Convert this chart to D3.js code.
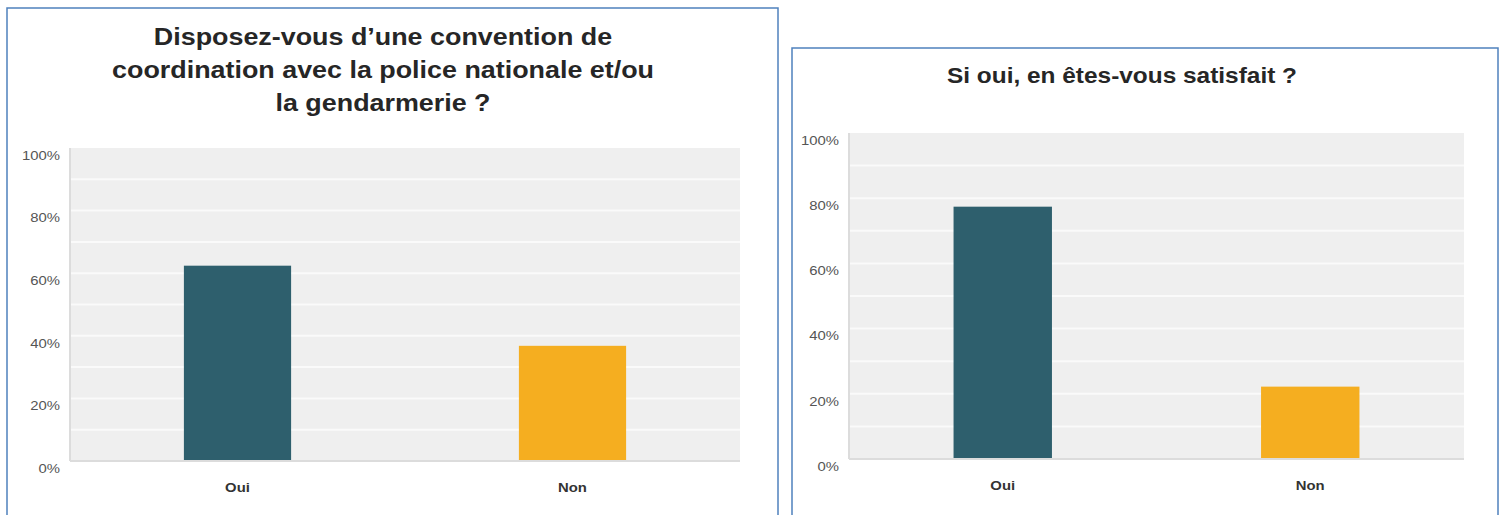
<!DOCTYPE html>
<html>
<head>
<meta charset="utf-8">
<script src="https://cdn.jsdelivr.net/npm/d3@7"></script>
<style>
  body { margin: 0; background: #fff; }
  svg { display: block; font-family: "Liberation Sans", Arial, sans-serif; }
</style>
</head>
<body>
<svg id="chart" width="1504" height="515"></svg>
<script>
// Answers shared by both questions
var categories = ["Oui", "Non"];
var barColors = ["#2e5f6d", "#f5ae20"];

// Question 1: agreement with police / gendarmerie
var title1 = ["Disposez-vous d\u2019une convention de",
              "coordination avec la police nationale et/ou",
              "la gendarmerie ?"];
var values1 = [0.624, 0.368];

// Question 2: satisfaction
var title2 = ["Si oui, en \u00eates-vous satisfait ?"];
var values2 = [0.774, 0.222];

var yTicks = [0, 0.2, 0.4, 0.6, 0.8, 1];
var yGrid = [0.1, 0.2, 0.3, 0.4, 0.5, 0.6, 0.7, 0.8, 0.9];

// the source screenshot is stretched sideways a bit
var stretch = 1.24;

var svg = d3.select("#chart");

function drawPanel(opts) {
  var g = svg.append("g");

  // panel frame
  g.append("rect")
    .attr("x", opts.frame[0]).attr("y", opts.frame[1])
    .attr("width", opts.frame[2]).attr("height", opts.frame[3])
    .attr("fill", "#fff")
    .attr("stroke", "#4f81bd")
    .attr("stroke-width", 1.5);

  g.selectAll(".title")
    .data(opts.title)
    .enter().append("text")
      .attr("class", "title")
      .attr("transform", (d, i) => "translate(" + opts.titleX + "," + (opts.titleY + i * 33) + ") scale(" + opts.titleStretch + ",1)")
      .attr("text-anchor", "middle")
      .attr("font-size", opts.titleSize)
      .attr("font-weight", "bold")
      .attr("fill", "#262626")
      .text(d => d);

  var m = opts.plot; // [left, top, right, bottom]
  var x = d3.scaleBand()
    .domain(categories)
    .range([m[0], m[2]])
    .paddingInner(0.68)
    .paddingOuter(0.34);

  var y = d3.scaleLinear()
    .domain([0, 1])
    .range([m[3], m[1]]);

  g.append("rect")
    .attr("x", m[0]).attr("y", m[1])
    .attr("width", m[2] - m[0]).attr("height", m[3] - m[1])
    .attr("fill", "#efefef");

  g.append("g").selectAll("line")
    .data(yGrid)
    .enter().append("line")
      .attr("x1", m[0]).attr("x2", m[2])
      .attr("y1", d => y(d)).attr("y2", d => y(d))
      .attr("stroke", "#fafafa")
      .attr("stroke-width", 2);

  // left axis edge and baseline
  g.append("line")
    .attr("x1", m[0]).attr("x2", m[0])
    .attr("y1", m[1]).attr("y2", m[3])
    .attr("stroke", "#dcdcdc").attr("stroke-width", 2);
  g.append("line")
    .attr("x1", m[0]).attr("x2", m[2])
    .attr("y1", m[3]).attr("y2", m[3])
    .attr("stroke", "#dcdcdc").attr("stroke-width", 2);

  g.append("g")
    .selectAll("rect")
    .data(opts.values)
    .enter().append("rect")
      .attr("x", (d, i) => x(categories[i]))
      .attr("y", d => y(d))
      .attr("width", x.bandwidth())
      .attr("height", d => y(0) - y(d) - 1)
      .attr("fill", (d, i) => barColors[i]);

  var yAxis = g.append("g")
    .attr("transform", "translate(" + (m[0] - 10) + ",0)")
    .call(d3.axisLeft(y).tickValues(yTicks).tickFormat(d3.format(".0%")).tickSize(0).tickPadding(0));
  yAxis.select(".domain").remove();
  yAxis.selectAll("text")
    .attr("font-size", 12)
    .attr("fill", "#555")
    .attr("font-family", null)
    .attr("dy", "0.95em")
    .attr("transform", "scale(" + stretch + ",1)");

  var xAxis = g.append("g")
    .attr("transform", "translate(0," + m[3] + ")")
    .call(d3.axisBottom(x).tickSize(0).tickPadding(0));
  xAxis.select(".domain").remove();
  xAxis.selectAll("text")
    .attr("font-size", 12)
    .attr("font-weight", "bold")
    .attr("fill", "#333")
    .attr("font-family", null)
    .attr("y", 31)
    .attr("dy", null)
    .attr("transform", "scale(" + stretch + ",1)");
}

drawPanel({
  frame: [7, 8, 771, 520],
  title: title1,
  titleX: 383,
  titleY: 45,
  titleSize: 24,
  titleStretch: 1.12,
  values: values1,
  plot: [70, 148, 740, 461]
});

drawPanel({
  frame: [792, 48, 706, 480],
  title: title2,
  titleX: 1122,
  titleY: 83,
  titleSize: 22,
  titleStretch: 1.11,
  values: values2,
  plot: [849, 133, 1464, 459]
});
</script>
</body>
</html>
